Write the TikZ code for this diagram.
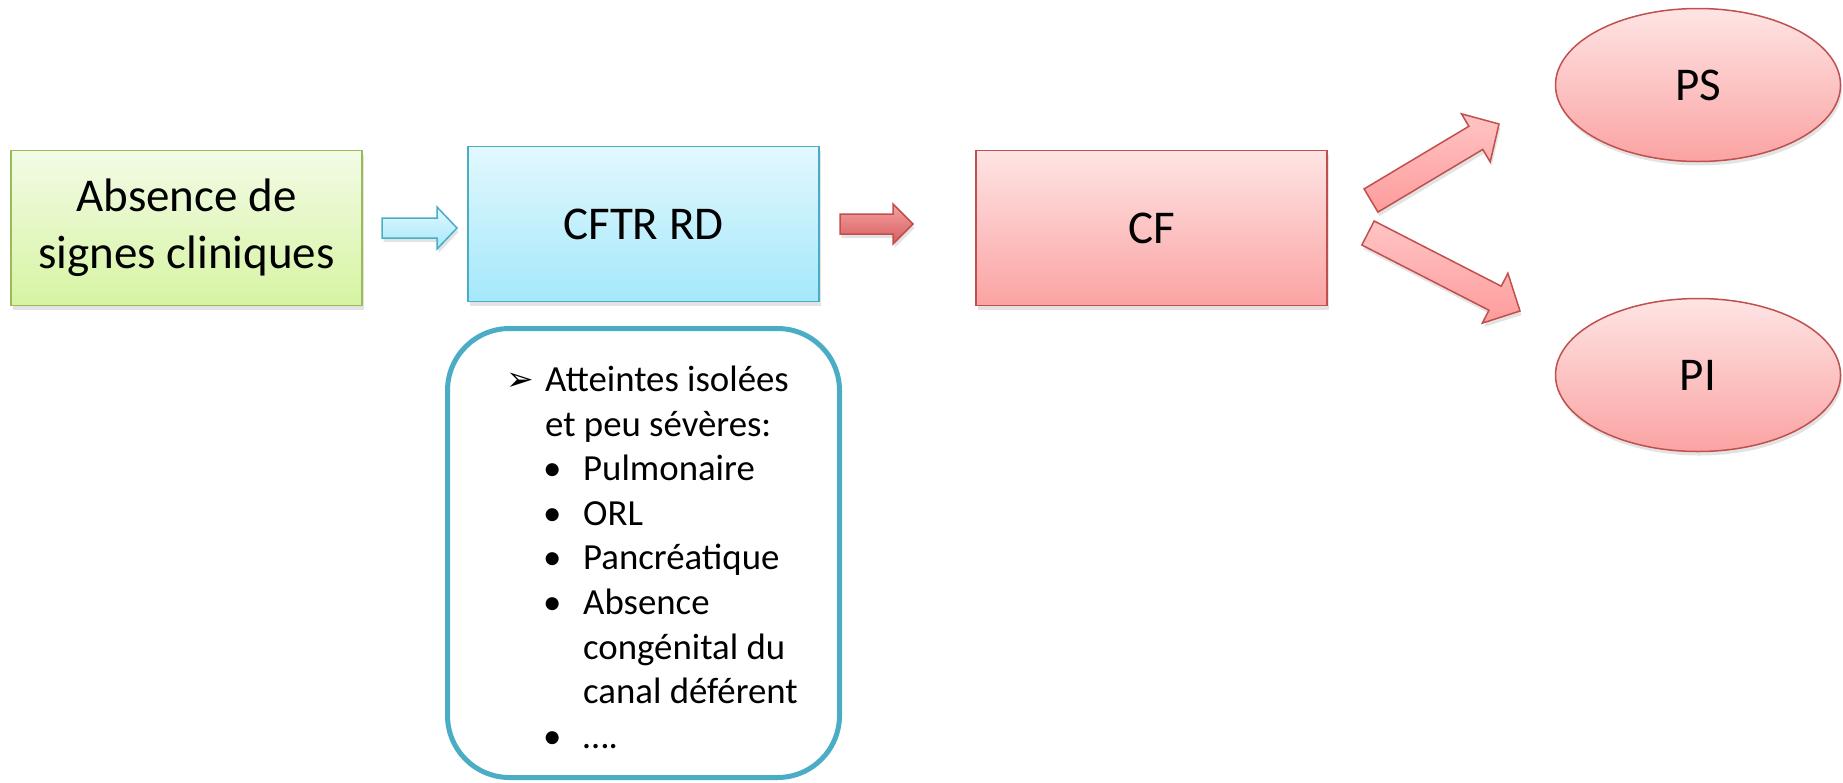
\documentclass[tikz,border=0pt]{standalone}
\usepackage{fontspec}
\setmainfont{Carlito}
\newfontfamily\symfont{DejaVu Sans}
\usetikzlibrary{calc,shadows,shapes.geometric}

\definecolor{gborder}{HTML}{9BBB59}
\definecolor{gtop}{HTML}{F3FBE6}
\definecolor{gbot}{HTML}{D6F4A2}
\definecolor{bborder}{HTML}{4BACC6}
\definecolor{btop}{HTML}{E2F8FE}
\definecolor{bbot}{HTML}{A4E8FA}
\definecolor{rborder}{HTML}{C0504D}
\definecolor{rtop}{HTML}{FEE4E4}
\definecolor{rbot}{HTML}{FBA3A3}
\definecolor{atop}{HTML}{F5A3A3}
\definecolor{abot}{HTML}{D65C5C}
\definecolor{dtop}{HTML}{FFC4C4}
\definecolor{dbot}{HTML}{FE9C9C}

% #1 name, #2 style, #3 from, #4 to, #5 shaft half width, #6 head half width, #7 head length
\newcommand\blockarr[7]{%
  \coordinate (#1h) at ($(#4)!#7!(#3)$);
  \path[#2] ($(#3)!#5!90:(#4)$) -- ($(#1h)!#5!90:(#4)$) -- ($(#1h)!#6!90:(#4)$)
    -- (#4) -- ($(#1h)!#6!-90:(#4)$) -- ($(#1h)!#5!-90:(#4)$)
    -- ($(#3)!#5!-90:(#4)$) -- cycle;}

\begin{document}
\begin{tikzpicture}[x=1pt,y=-1pt,
  shad/.style={drop shadow={opacity=0.22,shadow xshift=1.5pt,shadow yshift=-4pt}},
  box/.style={draw,line width=1.5pt,minimum width=351pt,minimum height=155pt,
    inner sep=0pt,align=center,font=\fontsize{47}{57}\selectfont,shad},
  greenbox/.style={box,draw=gborder,top color=gtop,bottom color=gbot},
  bluebox/.style={box,draw=bborder,top color=btop,bottom color=bbot},
  redbox/.style={box,draw=rborder,top color=rtop,bottom color=rbot},
  oval/.style={ellipse,draw=rborder,line width=1.5pt,minimum width=285pt,minimum height=153pt,
    inner sep=0pt,top color=rtop,bottom color=rbot,font=\fontsize{47}{57}\selectfont,shad},
  bluearr/.style={draw=bborder,line width=1.5pt,top color=btop,bottom color=bbot,shad},
  redarr/.style={draw=rborder,line width=1.5pt,top color=atop,bottom color=abot,shad},
  diagarr/.style={draw=rborder,line width=1.5pt,top color=dtop,bottom color=dbot,shad,line join=miter},
  panel/.style={draw=bborder,line width=5pt,rounded corners=62pt,fill=white},
  ltxt/.style={anchor=base west,inner sep=0pt,font=\fontsize{36.8}{44.8}\selectfont},
]
\useasboundingbox (0,0) rectangle (1843,782);

% main boxes
\node[greenbox] (abs) at (186.5,228) {Absence de\\signes cliniques};
\node[bluebox] (cftr) at (643.5,224) {CFTR RD};
\node[redbox] (cf) at (1151.5,228) {CF};
\node[oval] (ps) at (1698,85) {PS};
\node[oval] (pi) at (1698,375) {PI};

% block arrows
\coordinate (a1s) at (382,228);
\coordinate (a1e) at (457,228);
\blockarr{a1}{bluearr}{a1s}{a1e}{10pt}{21pt}{20pt}
\coordinate (a2s) at (840,224);
\coordinate (a2e) at (913,224);
\blockarr{a2}{redarr}{a2s}{a2e}{10pt}{20pt}{20pt}
\coordinate (a3s) at (1371,200.5);
\coordinate (a3e) at (1499,124);
\blockarr{a3}{diagarr}{a3s}{a3e}{13.5pt}{28pt}{27pt}
\coordinate (a4s) at (1368,233);
\coordinate (a4e) at (1520,311);
\blockarr{a4}{diagarr}{a4s}{a4e}{13.5pt}{28pt}{28pt}

% detail panel
\draw[panel] (447.5,328.5) rectangle (839.5,777.5);
\node[ltxt] (m1) at (506,390) {\fontsize{33}{40}\symfont ➢};
\node[ltxt] (l1) at (545,391) {Atteintes isolées};
\node[ltxt] (l2) at (545,436) {et peu sévères:};
\node[ltxt] (b1) at (543,480) {•};
\node[ltxt] (l3) at (583,480) {Pulmonaire};
\node[ltxt] (b2) at (543,525) {•};
\node[ltxt] (l4) at (583,525) {ORL};
\node[ltxt] (b3) at (543,569) {•};
\node[ltxt] (l5) at (583,569) {Pancréatique};
\node[ltxt] (b4) at (543,614) {•};
\node[ltxt] (l6) at (583,614) {Absence};
\node[ltxt] (l7) at (583,659) {congénital du};
\node[ltxt] (l8) at (583,703) {canal déférent};
\node[ltxt] (b5) at (543,748) {•};
\node[ltxt] (l9) at (583,748) {….};
\end{tikzpicture}
\end{document}
